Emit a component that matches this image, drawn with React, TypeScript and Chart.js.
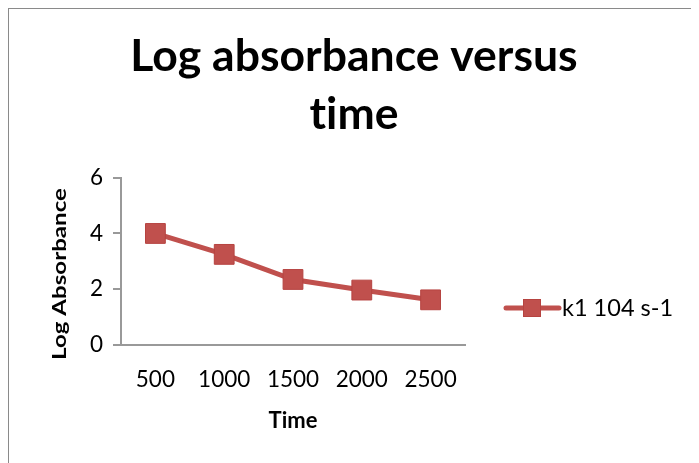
import React, { useEffect, useRef } from "react";
import { Chart, registerables } from "chart.js";

Chart.register(...registerables);

// Time points (category labels) and the measured log absorbance at each
const timeLabels = ["500", "1000", "1500", "2000", "2500"];
const logAbsorbance = [4.0, 3.25, 2.35, 1.97, 1.62];
const yMin = 0;
const yMax = 6;
const yStep = 2;

const seriesName = "k1 104 s-1";
const chartTitle = ["Log absorbance versus", "time"];
const xAxisTitle = "Time";
const yAxisTitle = "Log Absorbance";

const W = 690;
const H = 454;
const RED = "#C0504D";
const RED_EDGE = "#B64340";
const AXIS = "#999999";
const FONT = "Lato, Carlito, Calibri, 'Open Sans', sans-serif";

// Keeps glyph pairs such as "ti" from being drawn as ligatures
const textStylePlugin = {
  id: "textStyle",
  beforeDraw(chart: any) {
    const ctx: any = chart.ctx;
    if ("letterSpacing" in ctx) ctx.letterSpacing = "0.01px";
  },
};

// Draws the rotated y-axis title and the line+marker legend entry
const overlayPlugin = {
  id: "overlay",
  afterDraw(chart: any) {
    const ctx: CanvasRenderingContext2D = chart.ctx;

    ctx.save();
    ctx.translate(51, 265);
    ctx.rotate(-Math.PI / 2);
    ctx.font = `bold 19px ${FONT}`;
    const tw = ctx.measureText(yAxisTitle).width;
    ctx.scale(172 / tw, 1);
    ctx.fillStyle = "#000";
    ctx.textAlign = "center";
    ctx.textBaseline = "middle";
    ctx.fillText(yAxisTitle, 0, 0);
    ctx.restore();

    const ly = 299;
    ctx.save();
    ctx.strokeStyle = RED;
    ctx.lineWidth = 5;
    ctx.lineCap = "round";
    ctx.beginPath();
    ctx.moveTo(497, ly);
    ctx.lineTo(550, ly);
    ctx.stroke();
    ctx.fillStyle = RED;
    ctx.fillRect(514, ly - 9, 18, 18);
    ctx.strokeStyle = RED_EDGE;
    ctx.lineWidth = 1;
    ctx.strokeRect(514.5, ly - 8.5, 17, 17);
    ctx.font = `23.5px ${FONT}`;
    ctx.fillStyle = "#000";
    ctx.textAlign = "left";
    ctx.textBaseline = "middle";
    ctx.fillText(seriesName, 553, ly);
    ctx.restore();
  },
};

export default function App() {
  const canvasRef = useRef<HTMLCanvasElement | null>(null);

  useEffect(() => {
    document.body.style.overflow = "hidden";
    const canvas = canvasRef.current;
    if (!canvas) return;
    const chart = new Chart(canvas, {
      type: "line",
      data: {
        labels: timeLabels,
        datasets: [
          {
            label: seriesName,
            data: logAbsorbance,
            borderColor: RED,
            backgroundColor: RED,
            borderWidth: 5,
            pointStyle: "rect",
            pointRadius: 14,
            pointBackgroundColor: RED,
            pointBorderColor: RED_EDGE,
            pointBorderWidth: 1,
            tension: 0,
            yAxisID: "y",
          },
        ],
      },
      options: {
        responsive: false,
        animation: false,
        devicePixelRatio: 1,
        layout: { padding: 0 },
        plugins: {
          legend: { display: false },
          tooltip: { enabled: false },
          title: {
            display: true,
            text: chartTitle,
            color: "#000",
            font: { family: FONT, size: 44.5, weight: "bold", lineHeight: 1.3 },
            padding: { top: 19, bottom: 34 },
          },
        },
        scales: {
          x: {
            type: "category",
            offset: true,
            grid: {
              display: true,
              drawOnChartArea: false,
              drawTicks: false,
              color: AXIS,
            },
            border: { display: true, color: AXIS, width: 2 },
            ticks: {
              color: "#000",
              font: { family: FONT, size: 22.5 },
              padding: 21,
              maxRotation: 0,
              autoSkip: false,
            },
            title: {
              display: true,
              text: xAxisTitle,
              color: "#000",
              font: { family: FONT, size: 22, weight: "bold" },
              padding: { top: 4, bottom: 29 },
            },
            afterFit(scale: any) {
              scale.height = H - 336;
            },
          },
          y: {
            min: yMin,
            max: yMax,
            grid: {
              drawOnChartArea: false,
              drawTicks: true,
              tickLength: 8,
              color: AXIS,
              lineWidth: 2,
            },
            border: { display: true, color: AXIS, width: 2 },
            ticks: {
              stepSize: yStep,
              color: "#000",
              font: { family: FONT, size: 22.5 },
              padding: 10,
            },
            afterFit(scale: any) {
              scale.width = 112;
            },
          },
          // Empty right-hand band that holds the legend
          legendBand: {
            type: "linear",
            position: "right",
            display: true,
            grid: { display: false },
            border: { display: false },
            ticks: { display: false },
            afterFit(scale: any) {
              scale.width = W - 456;
            },
          },
        },
      },
      plugins: [textStylePlugin, overlayPlugin],
    });
    return () => chart.destroy();
  }, []);

  return (
    <div
      style={{
        width: W,
        height: H,
        borderLeft: "1px solid #8a8a8a",
        borderTop: "1px solid #8a8a8a",
        background: "#fff",
      }}
    >
      <canvas ref={canvasRef} width={W} height={H} style={{ display: "block" }} />
    </div>
  );
}
